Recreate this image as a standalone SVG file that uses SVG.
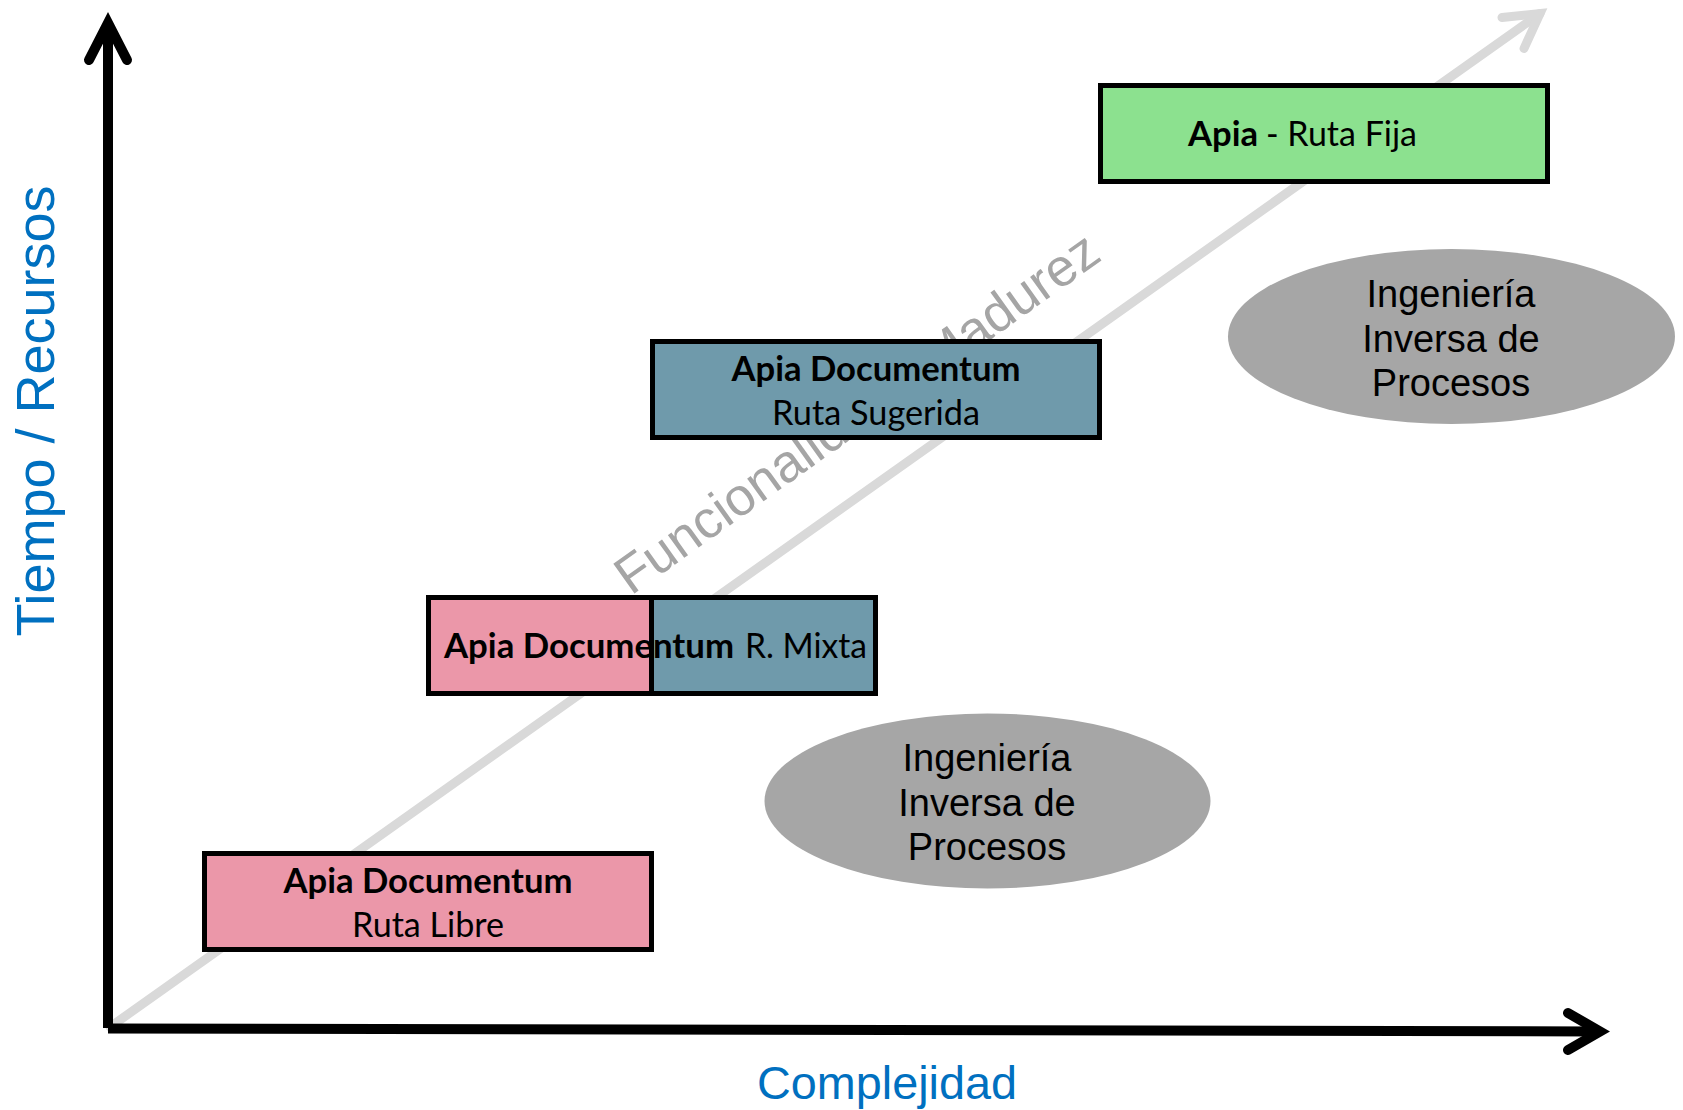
<svg xmlns="http://www.w3.org/2000/svg" width="1683" height="1110" viewBox="0 0 1683 1110">
<style>
  .box{stroke:#000;stroke-width:5}
  .pink{fill:#eb97a9}
  .blue{fill:#6f9aab}
  .green{fill:#8ce18f}
  .bt{font-family:Lato,"Open Sans",sans-serif;font-size:34.5px;fill:#000}
  .b{font-weight:700}
  .m{text-anchor:middle}
  .ell{fill:#a6a6a6}
  .et{font-family:"Liberation Sans",Arial,sans-serif;font-size:38px;fill:#000;text-anchor:middle}
  .ax{stroke:#000;stroke-width:10;fill:none}
  .axh{stroke:#000;stroke-width:10;fill:none;stroke-linecap:round;stroke-linejoin:miter}
  .diag{stroke:#d9d9d9;stroke-width:9;fill:none;stroke-linecap:round;stroke-linejoin:miter}
  .lbl{font-family:"Liberation Sans",Arial,sans-serif;fill:#0070c0}
</style>
<rect width="1683" height="1110" fill="#fff"/>
<g id="connectors">
  <line class="diag" x1="110" y1="1027" x2="1540" y2="13.5" stroke-linecap="butt"/>
  <polyline class="diag" points="1502,17.5 1540,13.5 1524,48.5"/>
  <text id="diag-label" transform="translate(631,596) rotate(-35.5)" font-family="Liberation Sans, Arial, sans-serif" font-size="53" fill="#a5a5a5">Funcionalidad / Madurez</text>
</g>
<g id="node-ruta-libre">
  <rect class="box pink" x="204.5" y="853.5" width="447" height="96"/>
  <text class="bt b m" x="428" y="893" textLength="289" lengthAdjust="spacingAndGlyphs">Apia Documentum</text>
  <text class="bt m" x="428" y="937" textLength="152" lengthAdjust="spacingAndGlyphs">Ruta Libre</text>
</g>
<g id="node-ruta-mixta">
  <rect class="box pink" x="428.5" y="597.5" width="223" height="96"/>
  <rect class="box blue" x="651.5" y="597.5" width="224" height="96"/>
  <text class="bt b" x="444" y="658" textLength="290" lengthAdjust="spacingAndGlyphs">Apia Documentum</text>
  <text class="bt" x="745" y="658" textLength="122" lengthAdjust="spacingAndGlyphs">R. Mixta</text>
</g>
<g id="node-ruta-sugerida">
  <rect class="box blue" x="652.5" y="341.5" width="447" height="96"/>
  <text class="bt b m" x="876" y="381" textLength="289" lengthAdjust="spacingAndGlyphs">Apia Documentum</text>
  <text class="bt m" x="876" y="425" textLength="208" lengthAdjust="spacingAndGlyphs">Ruta Sugerida</text>
</g>
<g id="node-ruta-fija">
  <rect class="box green" x="1100.5" y="85.5" width="447" height="96"/>
  <text class="bt b" x="1188" y="146" textLength="70" lengthAdjust="spacingAndGlyphs">Apia</text>
  <text class="bt" x="1266" y="146" textLength="151" lengthAdjust="spacingAndGlyphs">- Ruta Fija</text>
</g>
<g id="node-ingenieria-1">
  <ellipse class="ell" cx="987.5" cy="801" rx="223" ry="87.5"/>
  <text class="et" x="987" y="771">Ingeniería</text>
  <text class="et" x="987" y="815.5">Inversa de</text>
  <text class="et" x="987" y="860">Procesos</text>
</g>
<g id="node-ingenieria-2">
  <ellipse class="ell" cx="1451.5" cy="336.5" rx="223.5" ry="87.5"/>
  <text class="et" x="1451" y="307">Ingeniería</text>
  <text class="et" x="1451" y="351.5">Inversa de</text>
  <text class="et" x="1451" y="396">Procesos</text>
</g>
<g id="axes">
  <line class="ax" x1="108" y1="1028" x2="108" y2="25"/>
  <polyline class="axh" points="89,60 108,23 127,60"/>
  <line class="ax" x1="108" y1="1028.5" x2="1598" y2="1031.5"/>
  <polyline class="axh" points="1568,1013 1600,1031.5 1568,1050"/>
  <text class="lbl" transform="translate(54,411) rotate(-90)" text-anchor="middle" font-size="54">Tiempo / Recursos</text>
  <text class="lbl" x="757" y="1099" font-size="46" textLength="260" lengthAdjust="spacingAndGlyphs">Complejidad</text>
</g>
</svg>
